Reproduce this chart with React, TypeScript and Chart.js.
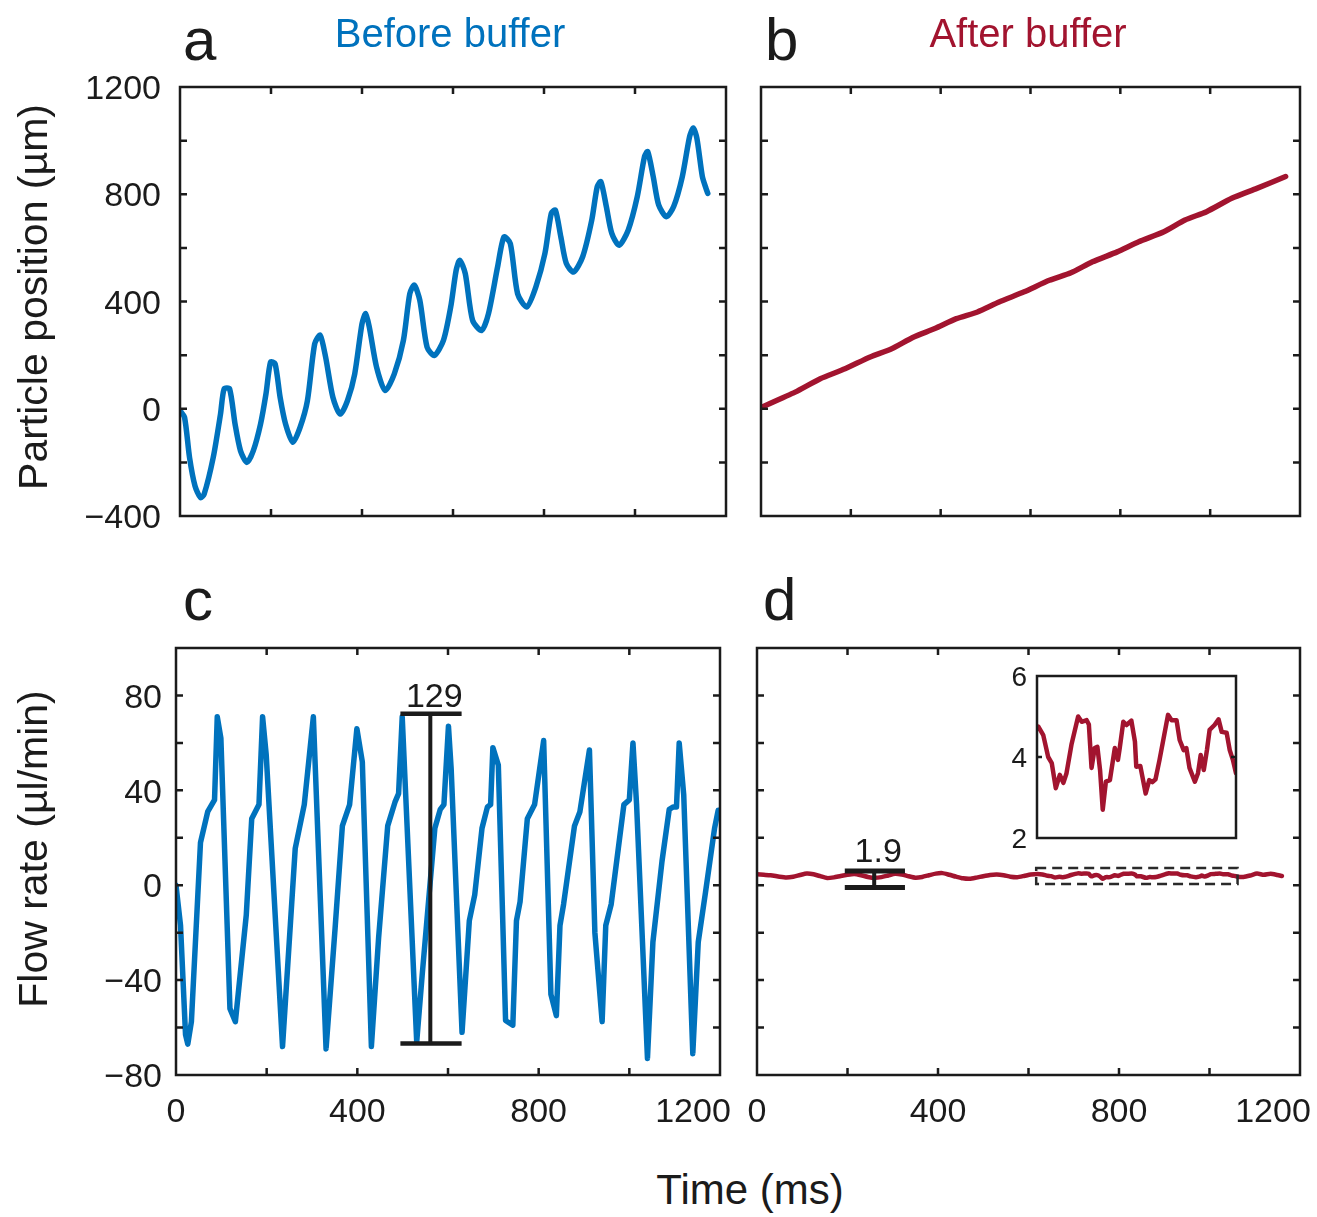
import React, { useEffect, useRef } from "react";
import { Chart, registerables } from "chart.js";

Chart.register(...registerables);

const FONT = '"Liberation Sans", Arial, Helvetica, sans-serif';
const BLUE = "#0072BD";
const RED = "#A2142F";
const INK = "#1b1b1b";

// ---------- axes ----------
const timeTicks = [0, 200, 400, 600, 800, 1000, 1200];
const timeLabels = [0, 400, 800, 1200];
const posTicks = [-400, -200, 0, 200, 400, 600, 800, 1000, 1200];
const posLabels = [-400, 0, 400, 800, 1200];
const flowTicks = [-80, -60, -40, -20, 0, 20, 40, 60, 80, 100];
const flowLabels = [-80, -40, 0, 40, 80];
const insetTicks = [4];
const insetLabels = [2, 4, 6];

// ---------- panel a : particle position before buffer ----------
const aTime = [0, 10, 21, 33, 45, 53, 73, 89, 97, 109, 121, 133, 147, 161, 177, 189, 199, 209, 220, 232, 248, 264, 280, 296, 308, 320, 336, 352, 368, 384, 400, 408, 416, 432, 451, 471, 491, 505, 515, 527, 543, 559, 579, 595, 607, 615, 627, 643, 663, 678, 698, 712, 726, 742, 762, 782, 802, 816, 825, 837, 849, 865, 885, 905, 917, 925, 937, 949, 965, 985, 1005, 1021, 1028, 1040, 1052, 1069, 1085, 1104, 1120, 1128, 1136, 1148, 1156, 1160];
const aPos = [-7, -32, -182, -288, -331, -319, -182, -20, 74, 74, -57, -157, -200, -157, -57, 56, 174, 168, 43, -57, -125, -69, 30, 242, 274, 193, 43, -20, 30, 130, 317, 355, 305, 155, 68, 130, 255, 429, 461, 405, 230, 199, 255, 380, 517, 554, 504, 330, 292, 355, 529, 641, 616, 429, 380, 454, 579, 729, 741, 641, 542, 510, 567, 704, 828, 847, 754, 654, 610, 666, 791, 941, 959, 866, 760, 716, 754, 866, 1015, 1047, 1009, 866, 822, 803];

// ---------- panel b : particle position after buffer ----------
const bTime = [0, 76, 132, 187, 243, 291, 339, 387, 435, 482, 530, 586, 642, 690, 738, 793, 841, 897, 944, 992, 1048, 1104, 1168];
const bPos = [5, 62, 112, 149, 193, 224, 267, 299, 336, 361, 398, 436, 479, 507, 548, 585, 623, 660, 704, 735, 785, 822, 866];

// ---------- panel c : flow rate before buffer ----------
const cTime = [0, 10, 21, 26, 34, 54, 70, 85, 91, 99, 119, 131, 155, 167, 183, 191, 199, 235, 263, 283, 303, 331, 351, 367, 383, 399, 411, 431, 447, 467, 483, 491, 499, 531, 543, 571, 583, 591, 601, 607, 631, 647, 659, 675, 687, 694, 699, 711, 727, 743, 751, 759, 775, 791, 811, 827, 839, 847, 855, 879, 891, 912, 924, 940, 948, 960, 988, 1000, 1008, 1016, 1040, 1052, 1072, 1088, 1097, 1104, 1110, 1120, 1140, 1152, 1168, 1188, 1196, 1200];
const cFlow = [0, -17, -63, -67, -57.5, 18, 31, 36, 71, 62, -52, -57.5, -12.6, 28, 34, 71, 55, -68, 15.5, 34, 71, -69, -18, 25, 34, 66, 52, -68, -22, 25, 35, 38.6, 71, -66, -38, 24, 32, 34, 67, 49, -62, -15, -4, 24, 33, 34, 58, 50.6, -57, -59, -15, -7, 28, 34, 61, -46, -55, -17, -8, 25, 31, 57, -20, -57.5, -17, -8, 34, 36, 60, 34, -73, -24, 10, 32, 33, 33, 60, 38, -71, -24, -3, 24, 31.6, 31.6];

// ---------- panel d : flow rate after buffer (inset shows 617-1062 ms) ----------
const dTime = [0, 15, 30, 50, 65, 80, 95, 110, 125, 140, 155, 170, 185, 200, 215, 230, 245, 260, 275, 290, 305, 320, 335, 350, 365, 380, 395, 410, 425, 440, 455, 470, 485, 500, 515, 530, 545, 560, 575, 590, 605, 620, 631, 642, 650, 659, 668, 676, 683, 694, 709, 717, 728, 733, 739, 746, 752, 758, 764, 771, 780, 791, 798, 802, 810, 817, 828, 836, 839, 848, 860, 868, 875, 882, 891, 910, 918, 929, 936, 945, 951, 958, 970, 977, 983, 990, 997, 1003, 1014, 1023, 1030, 1041, 1048, 1055, 1062, 1075, 1090, 1105, 1120, 1135, 1150, 1160];
const dFlow = [4.6, 4.4, 4.2, 3.6, 3.3, 3.6, 4.3, 4.9, 4.6, 3.8, 3.0, 3.3, 3.9, 4.4, 4.7, 4.2, 3.5, 3.1, 3.4, 4.1, 4.8, 4.5, 3.8, 3.2, 3.5, 4.2, 4.9, 5.1, 4.4, 3.6, 2.9, 2.7, 3.2, 3.8, 4.3, 4.5, 4.2, 3.6, 3.4, 3.9, 4.5, 4.75, 4.54, 4.0, 3.85, 3.23, 3.56, 3.36, 3.6, 4.3, 5.0, 4.87, 4.91, 4.8, 3.73, 4.22, 4.25, 3.68, 2.7, 3.39, 3.43, 4.22, 3.93, 4.22, 4.87, 4.79, 4.9, 4.38, 3.76, 3.78, 3.1, 3.43, 3.38, 3.45, 3.93, 5.04, 4.91, 4.91, 4.42, 4.17, 4.22, 3.73, 3.39, 3.6, 4.05, 3.68, 4.17, 4.67, 4.79, 4.93, 4.62, 4.6, 4.17, 3.93, 3.6, 3.5, 4.1, 4.9, 4.4, 4.8, 4.3, 3.9];
const insetRange = [617, 1062];
const insetFlowRange = [2, 6];

// ---------- annotations (values in data units) ----------
const cBarTime = [495, 561, 630]; // left cap, stem, right cap
const cBarFlow = [-66.7, 72.3];
const cBarText = "129";
const dBarTime = [194, 259, 327];
const dBarFlow = [-1, 6];
const dBarText = "1.9";
const zoomBoxFlow = [0.5, 7.3];

const fmt = (v: number) => (v < 0 ? "\u2212" + Math.abs(v) : String(v));
const pts = (xs: number[], ys: number[]) => xs.map((x, i) => ({ x, y: ys[i] }));

type TextItem = {
  text: string;
  x: number;
  y: number;
  size: number;
  color?: string;
  align?: CanvasTextAlign;
  rotate?: boolean;
};

interface FrameCfg {
  xTicks: number[];
  yTicks: number[];
  xLabels?: number[];
  yLabels?: number[];
  tickLen: number;
  frameWidth: number;
  labelSize: number;
  yLabelGap: number;
  xLabelDrop: number;
  lastXShift: number;
  texts: TextItem[];
  extras?: (chart: any) => void;
}

function framePlugin(cfg: FrameCfg) {
  return {
    id: "frame",
    afterDatasetsDraw(chart: any) {
      if (cfg.extras) cfg.extras(chart);
    },
    afterDraw(chart: any) {
      const { ctx, chartArea } = chart;
      const { left, right, top, bottom } = chartArea;
      const xs = chart.scales.x;
      const ys = chart.scales.y;
      ctx.save();
      ctx.strokeStyle = INK;
      ctx.lineWidth = cfg.frameWidth;
      ctx.strokeRect(left, top, right - left, bottom - top);
      ctx.beginPath();
      const L = cfg.tickLen;
      for (const t of cfg.xTicks) {
        const px = xs.getPixelForValue(t);
        if (px <= left + 2 || px >= right - 2) continue;
        ctx.moveTo(px, bottom);
        ctx.lineTo(px, bottom - L);
        ctx.moveTo(px, top);
        ctx.lineTo(px, top + L);
      }
      for (const v of cfg.yTicks) {
        const py = ys.getPixelForValue(v);
        if (py <= top + 2 || py >= bottom - 2) continue;
        ctx.moveTo(left, py);
        ctx.lineTo(left + L, py);
        ctx.moveTo(right, py);
        ctx.lineTo(right - L, py);
      }
      ctx.stroke();

      ctx.fillStyle = INK;
      ctx.font = `${cfg.labelSize}px ${FONT}`;
      ctx.textBaseline = "alphabetic";
      if (cfg.yLabels) {
        ctx.textAlign = "right";
        for (const v of cfg.yLabels) {
          const py = ys.getPixelForValue(v);
          ctx.fillText(fmt(v), left - cfg.yLabelGap, py + cfg.labelSize * 0.358);
        }
      }
      if (cfg.xLabels) {
        ctx.textAlign = "center";
        cfg.xLabels.forEach((t, i) => {
          let px = xs.getPixelForValue(t);
          if (i === cfg.xLabels!.length - 1) px += cfg.lastXShift;
          ctx.fillText(fmt(t), px, bottom + cfg.xLabelDrop);
        });
      }
      for (const it of cfg.texts) {
        ctx.save();
        ctx.fillStyle = it.color || INK;
        ctx.font = `${it.size}px ${FONT}`;
        ctx.textAlign = it.align || "left";
        ctx.textBaseline = "alphabetic";
        ctx.translate(it.x, it.y);
        if (it.rotate) ctx.rotate(-Math.PI / 2);
        ctx.fillText(it.text, 0, 0);
        ctx.restore();
      }
      ctx.restore();
    },
  };
}

function errorBar(chart: any, times: number[], flows: number[], text: string, capW: number, stemW: number, textGap: number) {
  const { ctx } = chart;
  const xs = chart.scales.x;
  const ys = chart.scales.y;
  const x0 = xs.getPixelForValue(times[0]);
  const xm = xs.getPixelForValue(times[1]);
  const x1 = xs.getPixelForValue(times[2]);
  const yb = ys.getPixelForValue(flows[0]);
  const yt = ys.getPixelForValue(flows[1]);
  ctx.save();
  ctx.strokeStyle = INK;
  ctx.lineWidth = capW;
  ctx.beginPath();
  ctx.moveTo(x0, yt);
  ctx.lineTo(x1, yt);
  ctx.moveTo(x0, yb);
  ctx.lineTo(x1, yb);
  ctx.stroke();
  ctx.lineWidth = stemW;
  ctx.beginPath();
  ctx.moveTo(xm, yt);
  ctx.lineTo(xm, yb);
  ctx.stroke();
  ctx.fillStyle = INK;
  ctx.font = `34px ${FONT}`;
  ctx.textAlign = "center";
  ctx.textBaseline = "alphabetic";
  ctx.fillText(text, xm + 4, yt - textGap);
  ctx.restore();
}

function lineConfig(opts: {
  data: { x: number; y: number }[];
  color: string;
  width: number;
  tension: number;
  xMin: number;
  xMax: number;
  yMin: number;
  yMax: number;
  padding: { left: number; right: number; top: number; bottom: number };
  frame: FrameCfg;
  clip?: number | false;
}): any {
  return {
    type: "line",
    data: {
      datasets: [
        {
          data: opts.data,
          borderColor: opts.color,
          borderWidth: opts.width,
          pointRadius: 0,
          tension: opts.tension,
          fill: false,
          borderCapStyle: "round",
          borderJoinStyle: "round",
          clip: opts.clip === undefined ? undefined : opts.clip,
        },
      ],
    },
    options: {
      animation: false,
      responsive: false,
      maintainAspectRatio: false,
      events: [],
      layout: { padding: opts.padding },
      plugins: { legend: { display: false }, tooltip: { enabled: false }, title: { display: false } },
      scales: {
        x: { type: "linear", min: opts.xMin, max: opts.xMax, display: false },
        y: { type: "linear", min: opts.yMin, max: opts.yMax, display: false },
      },
    },
    plugins: [framePlugin(opts.frame)],
  };
}

export default function App() {
  const refA = useRef<HTMLCanvasElement>(null);
  const refB = useRef<HTMLCanvasElement>(null);
  const refC = useRef<HTMLCanvasElement>(null);
  const refD = useRef<HTMLCanvasElement>(null);
  const refI = useRef<HTMLCanvasElement>(null);

  useEffect(() => {
    const base = {
      tickLen: 7,
      frameWidth: 2.5,
      labelSize: 34,
      xLabelDrop: 47,
      lastXShift: -27,
    };
    const charts: Chart[] = [];

    charts.push(
      new Chart(
        refA.current!,
        lineConfig({
          data: pts(aTime, aPos),
          color: BLUE,
          width: 5.5,
          tension: 0.25,
          xMin: 0,
          xMax: 1200,
          yMin: -400,
          yMax: 1200,
          padding: { left: 180, right: 19, top: 87, bottom: 44 },
          frame: {
            ...base,
            xTicks: timeTicks,
            yTicks: posTicks,
            yLabels: posLabels,
            yLabelGap: 19,
            texts: [
              { text: "a", x: 183, y: 60, size: 60 },
              { text: "Before buffer", x: 450, y: 47, size: 40, color: BLUE, align: "center" },
              { text: "Particle position (\u00b5m)", x: 47, y: 297, size: 41, align: "center", rotate: true },
            ],
          },
        })
      )
    );

    charts.push(
      new Chart(
        refB.current!,
        lineConfig({
          data: pts(bTime, bPos),
          color: RED,
          width: 5.5,
          tension: 0.2,
          xMin: 0,
          xMax: 1200,
          yMin: -400,
          yMax: 1200,
          padding: { left: 16, right: 17, top: 87, bottom: 44 },
          frame: {
            ...base,
            xTicks: timeTicks,
            yTicks: posTicks,
            yLabelGap: 19,
            texts: [
              { text: "b", x: 20, y: 60, size: 60 },
              { text: "After buffer", x: 283, y: 47, size: 40, color: RED, align: "center" },
            ],
          },
        })
      )
    );

    charts.push(
      new Chart(
        refC.current!,
        lineConfig({
          data: pts(cTime, cFlow),
          color: BLUE,
          width: 5.5,
          tension: 0,
          xMin: 0,
          xMax: 1200,
          yMin: -80,
          yMax: 100,
          padding: { left: 176, right: 25, top: 88, bottom: 85 },
          frame: {
            ...base,
            xTicks: timeTicks,
            yTicks: flowTicks,
            xLabels: timeLabels,
            yLabels: flowLabels,
            yLabelGap: 14,
            texts: [
              { text: "c", x: 183, y: 60, size: 60 },
              { text: "Flow rate (\u00b5l/min)", x: 47, y: 289, size: 41, align: "center", rotate: true },
            ],
            extras: (chart) => errorBar(chart, cBarTime, cBarFlow, cBarText, 4.5, 4, 7),
          },
        })
      )
    );

    charts.push(
      new Chart(
        refD.current!,
        lineConfig({
          data: pts(dTime, dFlow),
          color: RED,
          width: 4.5,
          tension: 0.2,
          xMin: 0,
          xMax: 1200,
          yMin: -80,
          yMax: 100,
          padding: { left: 12, right: 17, top: 88, bottom: 85 },
          frame: {
            ...base,
            xTicks: timeTicks,
            yTicks: flowTicks,
            xLabels: timeLabels,
            yLabelGap: 14,
            texts: [{ text: "d", x: 18, y: 60, size: 60 }],
            extras: (chart) => {
              errorBar(chart, dBarTime, dBarFlow, dBarText, 5, 4, 9);
              const { ctx } = chart;
              const xs = chart.scales.x;
              const ys = chart.scales.y;
              const x0 = xs.getPixelForValue(insetRange[0]);
              const x1 = xs.getPixelForValue(insetRange[1]);
              const y0 = ys.getPixelForValue(zoomBoxFlow[1]);
              const y1 = ys.getPixelForValue(zoomBoxFlow[0]);
              ctx.save();
              ctx.strokeStyle = "#2a2a2a";
              ctx.lineWidth = 2.5;
              ctx.setLineDash([10, 6]);
              ctx.strokeRect(x0, y0, x1 - x0, y1 - y0);
              ctx.restore();
            },
          },
        })
      )
    );

    charts.push(
      new Chart(
        refI.current!,
        lineConfig({
          data: pts(dTime, dFlow),
          color: RED,
          width: 4.5,
          tension: 0,
          xMin: insetRange[0],
          xMax: insetRange[1],
          yMin: insetFlowRange[0],
          yMax: insetFlowRange[1],
          padding: { left: 47, right: 24, top: 16, bottom: 22 },
          clip: 0,
          frame: {
            tickLen: 5,
            frameWidth: 2.5,
            labelSize: 28,
            xLabelDrop: 0,
            lastXShift: 0,
            xTicks: [],
            yTicks: insetTicks,
            yLabels: insetLabels,
            yLabelGap: 10,
            texts: [],
          },
        })
      )
    );

    return () => charts.forEach((c) => c.destroy());
  }, []);

  const abs = (l: number, t: number, w: number, h: number): React.CSSProperties => ({
    position: "absolute",
    left: l,
    top: t,
    width: w,
    height: h,
  });

  return (
    <div style={{ position: "absolute", left: 0, top: 0, width: 1317, height: 1217, background: "#fff", overflow: "hidden" }}>
      <canvas ref={refA} width={745} height={560} style={abs(0, 0, 745, 560)} />
      <canvas ref={refB} width={572} height={560} style={abs(745, 0, 572, 560)} />
      <canvas ref={refC} width={745} height={600} style={abs(0, 560, 745, 600)} />
      <canvas ref={refD} width={572} height={600} style={abs(745, 560, 572, 600)} />
      <canvas ref={refI} width={270} height={200} style={abs(990, 660, 270, 200)} />
      <div
        style={{
          position: "absolute",
          left: 550,
          width: 400,
          top: 1169,
          fontSize: 42,
          lineHeight: "42px",
          fontFamily: FONT,
          textAlign: "center",
          color: INK,
          whiteSpace: "nowrap",
        }}
      >
        Time (ms)
      </div>
    </div>
  );
}
